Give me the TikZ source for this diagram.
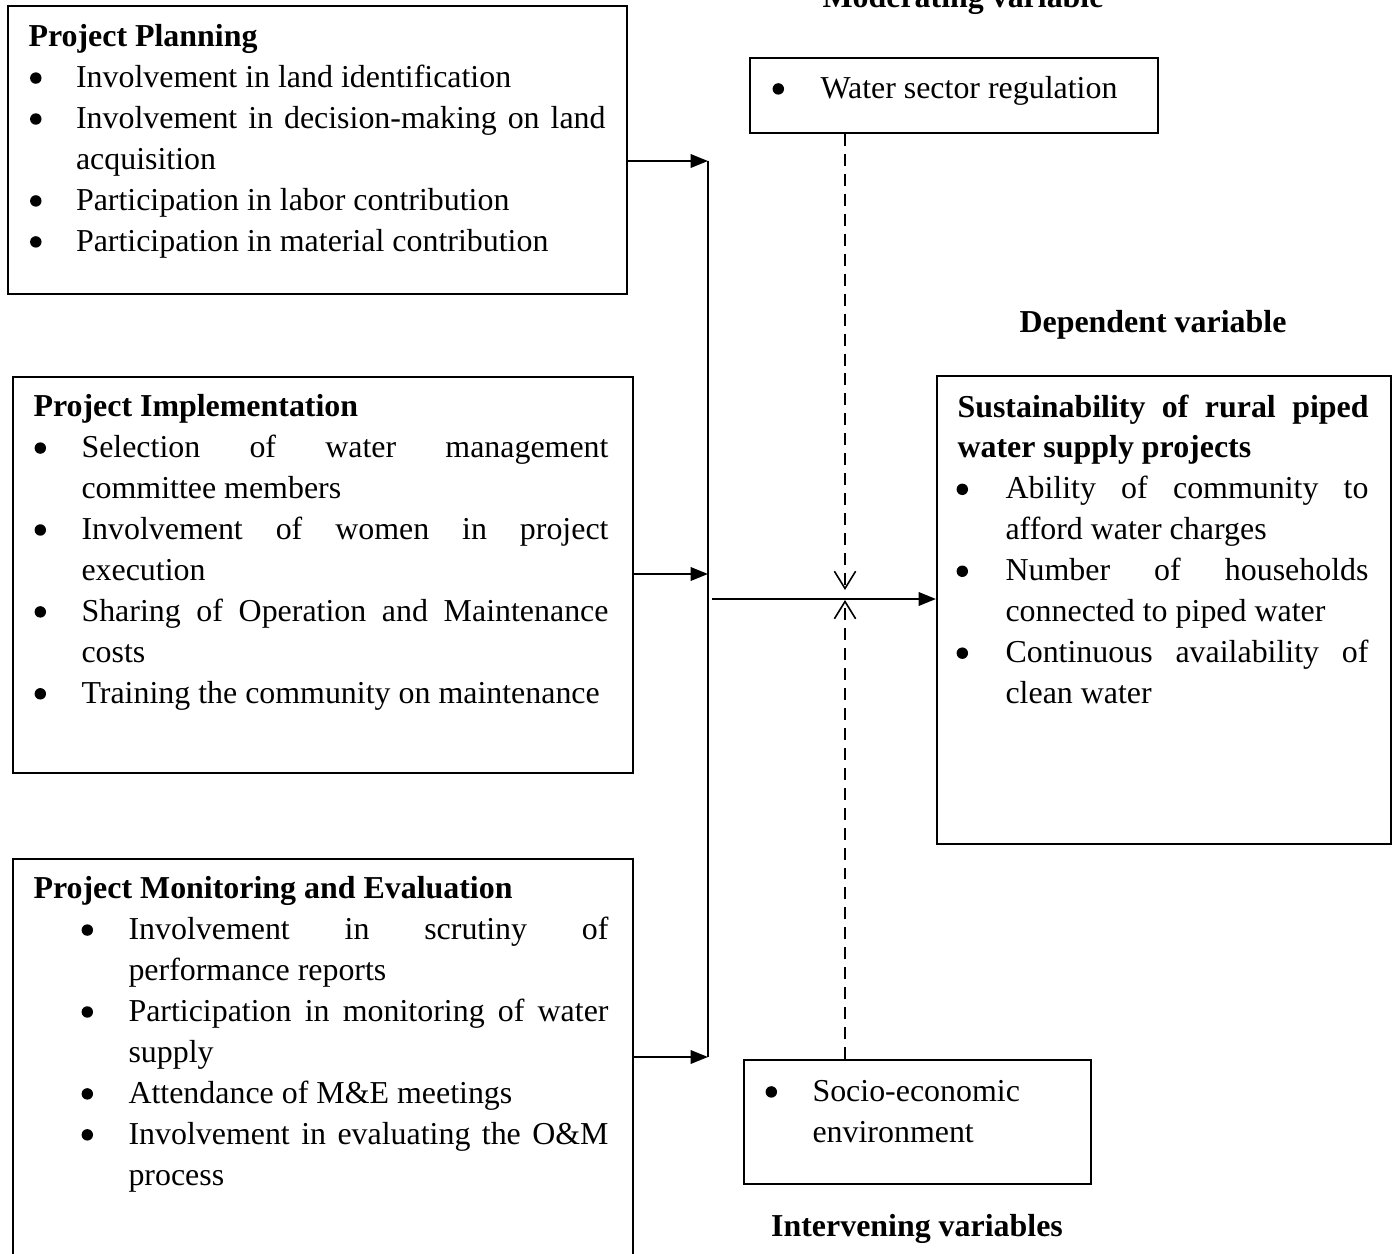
\documentclass[tikz,border=0pt]{standalone}
\usepackage{fontspec}
\setmainfont{Liberation Serif}
\usetikzlibrary{arrows.meta,positioning}

\newdimen\unitpx \unitpx=0.376pt
\setlength{\parindent}{0pt}
\tolerance=10000
\hyphenpenalty=10000
\exhyphenpenalty=10000
\newcommand\bdot{\tikz[baseline=0pt]\fill (0,3.6pt) circle (2.15pt);}
\newenvironment{blist}[2]{\begin{list}{\bdot}{%
  \settowidth{\labelwidth}{\bdot}%
  \setlength{\leftmargin}{#1\unitpx}\setlength{\labelsep}{#2\unitpx}%
  \setlength{\topsep}{0pt}\setlength{\partopsep}{0pt}%
  \setlength{\itemsep}{0pt}\setlength{\parsep}{0pt}}}{\end{list}}

\begin{document}
\begin{tikzpicture}[x=0.376pt,y=-0.376pt,
  font=\fontsize{12}{15.4}\selectfont,
  box/.style={draw,line width=0.8pt,anchor=north west,inner sep=0pt},
  txt/.style={anchor=north west,inner sep=0pt,align=justify},
  head/.style={anchor=base,inner sep=0pt,font=\fontsize{12}{15.4}\selectfont\bfseries},
  flow/.style={line width=0.9pt,-{Triangle[length=6.5pt,width=5pt]}},
  moder/.style={line width=0.6pt,dash pattern=on 4.5pt off 3pt,-{Straight Barb[length=6.5pt,width=8pt]}}]
\useasboundingbox (0,0) rectangle (1395,1254);
\clip (0,0) rectangle (1395,1254);

% boxes
\node[box,minimum width=232.74pt,minimum height=108.29pt] (plan) at (7,5) {};
\node[box,minimum width=233.12pt,minimum height=148.90pt] (impl) at (12,376) {};
\node[box,minimum width=233.12pt,minimum height=151.90pt] (mande) at (12,858) {};
\node[box,minimum width=170.70pt,minimum height=175.97pt] (dep) at (936,375) {};
\node[box,minimum width=153.41pt,minimum height=28.20pt] (mod) at (749,57) {};
\node[box,minimum width=130.47pt,minimum height=46.62pt] (inter) at (743,1059) {};

% box texts
\node[txt,text width=216.95pt] (plantxt) at (28,24) {\textbf{Project Planning}
  \begin{blist}{47.5}{34.5}
  \item Involvement in land identification
  \item Involvement in decision-making on land\linebreak acquisition
  \item Participation in labor contribution
  \item Participation in material contribution
  \end{blist}};
\node[txt,text width=216.20pt] (impltxt) at (33,394) {\textbf{Project Implementation}
  \begin{blist}{48}{35.5}
  \item Selection of water management\linebreak committee members
  \item Involvement of women in project\linebreak execution
  \item Sharing of Operation and Maintenance\linebreak costs
  \item Training the community on maintenance
  \end{blist}};
\node[txt,text width=216.20pt] (mandetxt) at (33,876) {\textbf{Project Monitoring and Evaluation}
  \begin{blist}{95}{35.5}
  \item Involvement in scrutiny of\linebreak performance reports
  \item Participation in monitoring of water\linebreak supply
  \item Attendance of M\&E meetings
  \item Involvement in evaluating the O\&M\linebreak process
  \end{blist}};
\node[txt,text width=154.54pt] (deptxt) at (957,394) {\textbf{Sustainability of rural piped\linebreak water supply projects}
  \begin{blist}{48}{37.5}
  \item Ability of community to\linebreak afford water charges
  \item Number of households\linebreak connected to piped water
  \item Continuous availability of\linebreak clean water
  \end{blist}};
\node[txt,text width=135.36pt] (modtxt) at (772,57) {%
  \begin{blist}{48}{36.5}
  \item Water sector regulation
  \end{blist}};
\node[txt,text width=112.80pt] (intertxt) at (764,1060) {%
  \begin{blist}{48}{35.5}
  \item Socio-economic\linebreak environment
  \end{blist}};

% headings
\node[head] (modhead) at (963,8) {Moderating variable};
\node[head] (dephead) at (1153,332) {Dependent variable};
\node[head] (interhead) at (917,1236) {Intervening variables};

% connectors
\coordinate (bustop) at (708,161);
\coordinate (busbot) at (708,1057);
\coordinate (join) at (712,599);
\coordinate (meettop) at (845,590);
\coordinate (meetbot) at (845,600);
\draw[flow] (plan.east |- bustop) -- (bustop);
\draw[flow] (impl.east |- 0,574) -- (bustop |- 0,574);
\draw[flow] (mande.east |- busbot) -- (busbot);
\draw[line width=0.6pt] (bustop) -- (busbot);
\draw[flow] (join) -- (join -| dep.west);
\draw[moder] (mod.south -| meettop) -- (meettop);
\draw[moder] (inter.north -| meetbot) -- (meetbot);
\end{tikzpicture}
\end{document}
